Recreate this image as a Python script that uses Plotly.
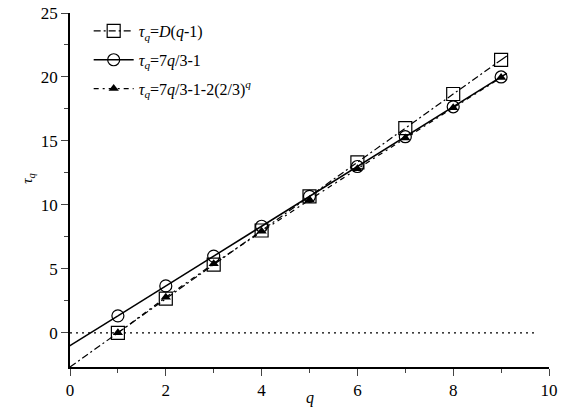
import plotly.graph_objects as go

# ---- data ----
q_pts = [1, 2, 3, 4, 5, 6, 7, 8, 9]
tau_D = [0.0, 2.67, 5.33, 8.0, 10.67, 13.33, 16.0, 18.67, 21.33]
tau_lin = [1.33, 3.67, 6.0, 8.33, 10.67, 13.0, 15.33, 17.67, 20.0]
tau_corr = [0.0, 2.78, 5.41, 7.94, 10.40, 12.82, 15.22, 17.59, 19.95]

# extensions of the fitted lines beyond the points
ext_D_q = [0.0, 1.0, None, 9.0, 9.12]
ext_D_tau = [-2.67, 0.0, None, 21.33, 21.65]
ext_lin_q = [-0.27, 1.0, None, 9.0, 9.12]
ext_lin_tau = [-1.63, 1.33, None, 20.0, 20.28]

zero_q = [0.0, 9.75]
zero_tau = [0.0, 0.0]

x_ticks = [0, 2, 4, 6, 8, 10]
y_ticks = [0, 5, 10, 15, 20, 25]

FONT = "Liberation Serif, Times New Roman, DejaVu Serif, serif"
name_D = "<i>τ</i><sub><i>q</i></sub>=<i>D</i>(<i>q</i>-1)"
name_lin = "<i>τ</i><sub><i>q</i></sub>=7<i>q</i>/3-1"
name_corr = "<i>τ</i><sub><i>q</i></sub>=7<i>q</i>/3-1-2(2/3)<sup><i>q</i></sup>"

fig = go.Figure()

# zero dotted line
fig.add_trace(go.Scatter(x=zero_q, y=zero_tau, mode="lines", showlegend=False,
                         line=dict(color="black", width=1.2, dash="2px,4px"),
                         hoverinfo="skip", cliponaxis=False))

# extensions
fig.add_trace(go.Scatter(x=ext_D_q, y=ext_D_tau, mode="lines", showlegend=False,
                         line=dict(color="black", width=1.2, dash="7px,3px,2px,3px"),
                         cliponaxis=False))
fig.add_trace(go.Scatter(x=ext_lin_q, y=ext_lin_tau, mode="lines", showlegend=False,
                         line=dict(color="black", width=1.5), cliponaxis=False))

fig.add_trace(go.Scatter(x=q_pts, y=tau_D, mode="lines+markers", name=name_D,
                         legendgroup="a",
                         line=dict(color="black", width=1.2, dash="7px,3px,2px,3px"),
                         marker=dict(symbol="square-open", size=13, color="black",
                                     line=dict(width=1.2))))
fig.add_trace(go.Scatter(x=q_pts, y=tau_lin, mode="lines+markers", name=name_lin,
                         legendgroup="b",
                         line=dict(color="black", width=1.5),
                         marker=dict(symbol="circle-open", size=12, color="black",
                                     line=dict(width=1.2))))
fig.add_trace(go.Scatter(x=q_pts, y=tau_corr, mode="lines+markers", name=name_corr,
                         legendgroup="c",
                         line=dict(color="black", width=1.2, dash="5px,4px,2px,4px"),
                         marker=dict(symbol="triangle-up", size=9, color="black")))

fig.update_layout(
    width=580, height=417,
    margin=dict(l=70, r=31, t=13, b=50, autoexpand=False),
    paper_bgcolor="white", plot_bgcolor="white",
    font=dict(family=FONT, color="black", size=16),
    showlegend=True,
    legend=dict(x=0.039, y=0.997, xanchor="left", yanchor="top",
                font=dict(family=FONT, size=16), itemwidth=40,
                tracegroupgap=5, bgcolor="rgba(0,0,0,0)"),
    xaxis=dict(range=[0, 10], tickvals=x_ticks, ticks="outside", ticklen=7,
               tickwidth=1.3, showline=True, linecolor="black", linewidth=1.5,
               showgrid=False, zeroline=False, mirror=False, automargin=False,
               minor=dict(dtick=1, ticks="outside", ticklen=4, tickwidth=1.3),
               tickfont=dict(family=FONT, size=17)),
    yaxis=dict(range=[-2.67, 25], tickvals=y_ticks, ticks="outside", ticklen=7,
               tickwidth=1.3, showline=True, linecolor="black", linewidth=1.5,
               showgrid=False, zeroline=False, mirror=False, automargin=False,
               minor=dict(tickvals=[2.5, 7.5, 12.5, 17.5, 22.5], ticks="outside",
                          ticklen=4, tickwidth=1.3),
               tickfont=dict(family=FONT, size=17)),
    annotations=[
        dict(text="<i>q</i>", xref="paper", yref="paper", x=0.5, y=-0.088,
             xanchor="center", yanchor="middle", showarrow=False,
             font=dict(family=FONT, size=16)),
        dict(text="<i>τ</i><sub><i>q</i></sub>", xref="paper", yref="paper",
             x=-0.088, y=0.534, xanchor="center", yanchor="middle",
             textangle=-90, showarrow=False, font=dict(family=FONT, size=15)),
    ],
)

# remove the browser's default 8px page margin so the figure sits at (0, 0)
fig.write_html("out.html", config={"displayModeBar": False},
               post_script="document.body.style.margin='0';")
